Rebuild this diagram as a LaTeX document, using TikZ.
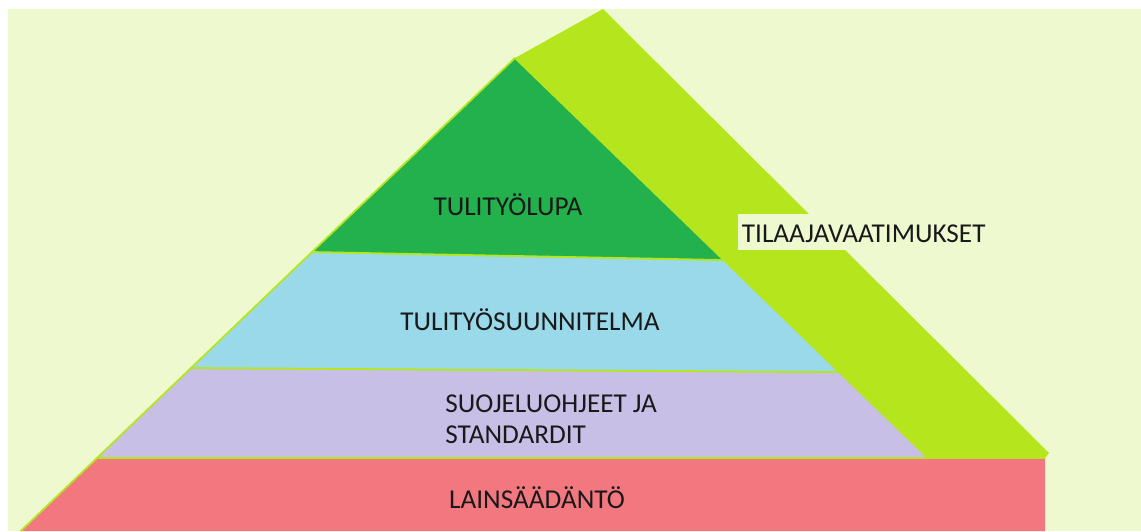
\documentclass[tikz,border=0pt]{standalone}
\usepackage{fontspec}
\setmainfont{Carlito}
\usetikzlibrary{positioning}
\definecolor{tausta}{HTML}{EEF9D0}
\definecolor{limetti}{HTML}{B5E61D}
\definecolor{vihrea}{HTML}{22B14C}
\definecolor{sininen}{HTML}{99D9EA}
\definecolor{laventeli}{HTML}{C8BFE7}
\definecolor{punainen}{HTML}{F3777F}

\begin{document}
\begin{tikzpicture}[x = 0.02cm, y = -0.02cm, layer/.style = {draw = limetti, line width = 1pt, line join = round}, label/.style = {font = \fontsize{15.5}{18}\selectfont, text = black!90, inner sep = 0pt}]
\useasboundingbox (0,0) rectangle (1141,531);
\fill[tausta] (8,9) rectangle (1141,531);

\fill[limetti] (515,58) -- (603,9) -- (1049,453) -- (1045,458) -- (928,458) -- cycle;

\fill[punainen] (97,458) -- (1045,458) -- (1045,531) -- (20.7,531) -- cycle;
\draw[layer] (20.7,531) -- (97,458) -- (1045,458);
\path[layer, fill = laventeli] (191,368) -- (839,372) -- (928,458) -- (97,458) -- cycle;
\path[layer, fill = sininen] (312,252) -- (723.6,260) -- (839,372) -- (191,368) -- cycle;
\path[layer, fill = vihrea] (515,58) -- (723.6,260) -- (312,252) -- cycle;

\node[label, anchor = base] (lupa) at (508,215) {TULITYÖLUPA};
\node[label, anchor = base] (suunnitelma) at (530,330) {TULITYÖSUUNNITELMA};
\node[label, anchor = base west] (ohjeet) at (445,412) {SUOJELUOHJEET JA};
\node[label, anchor = base west] (standardit) at (445,443) {STANDARDIT};
\node[label, anchor = base] (laki) at (537,508) {LAINSÄÄDÄNTÖ};
\node[label, anchor = base west, fill = tausta, inner xsep = 2pt, text height = 16pt, text depth = 4.5pt] (tilaaja) at (738,242) {TILAAJAVAATIMUKSET};
\end{tikzpicture}
\end{document}
